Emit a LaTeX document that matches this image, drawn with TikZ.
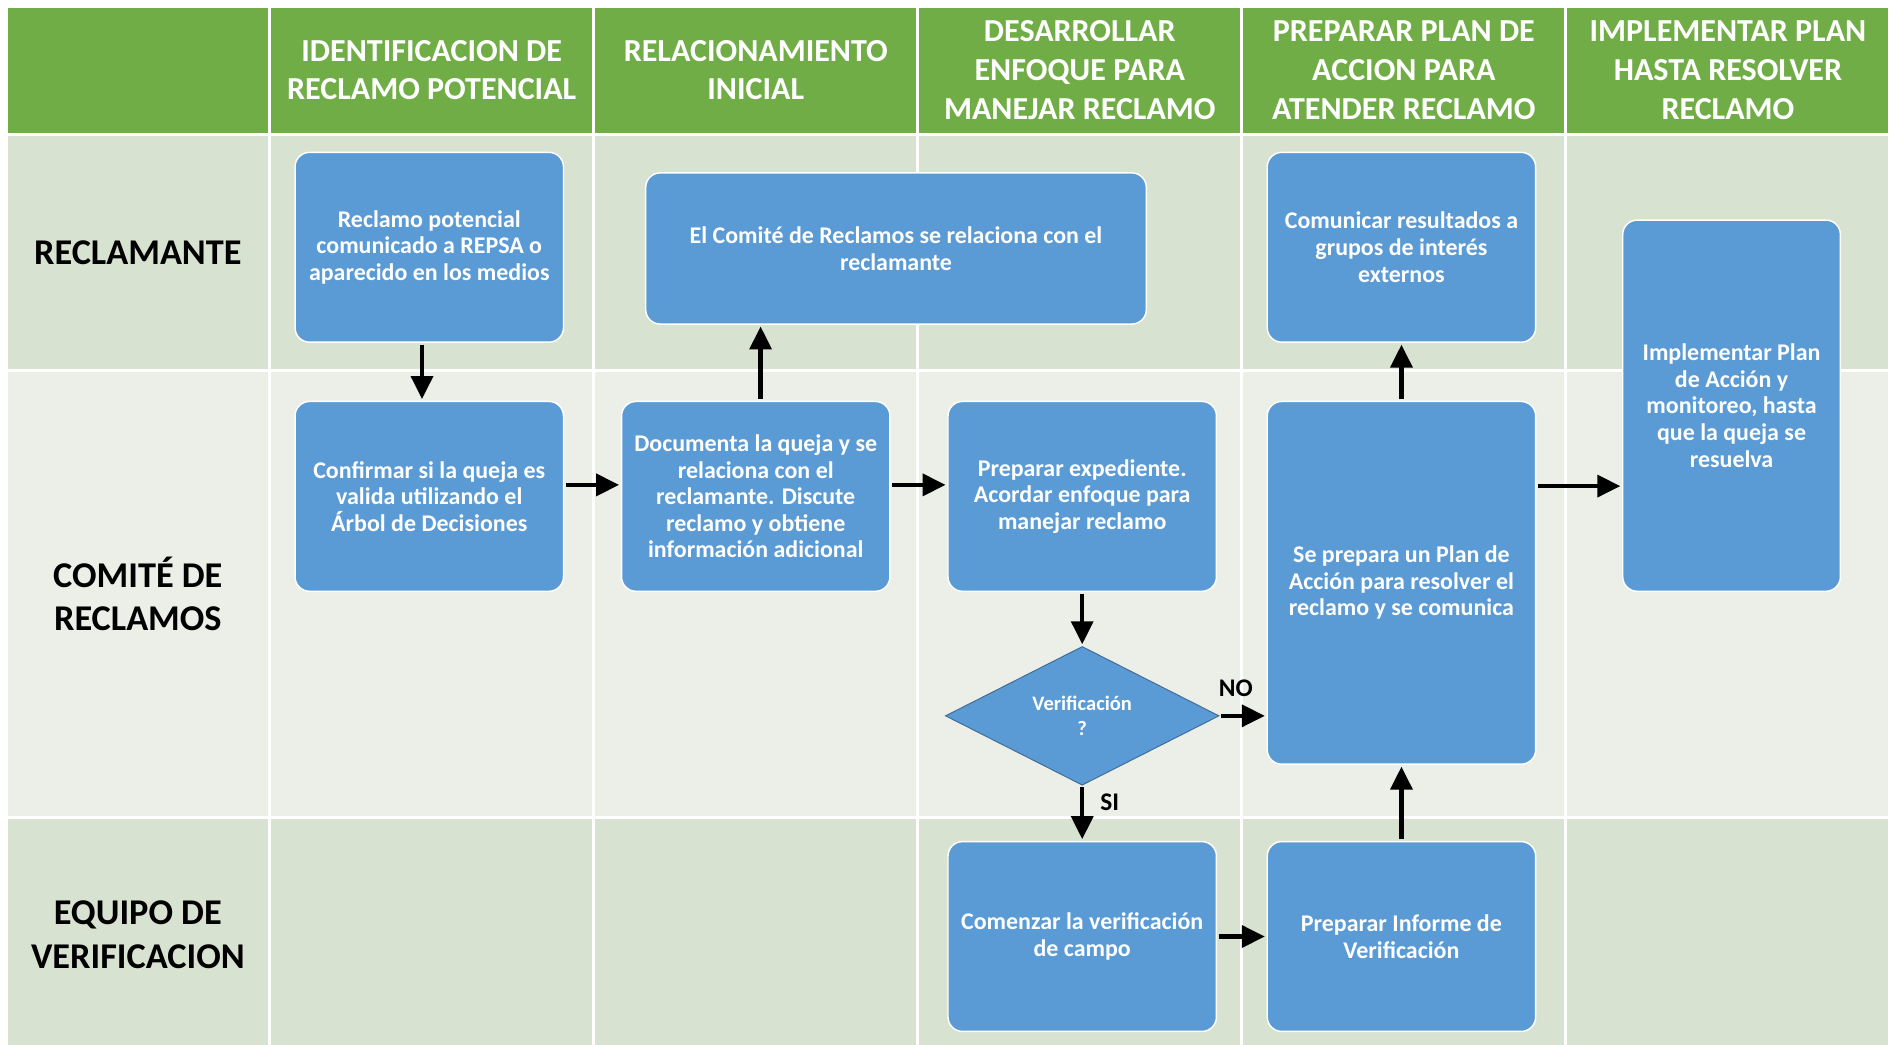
\documentclass[tikz,border=0pt]{standalone}
\usepackage{fontspec}
\setmainfont{Carlito}
\usetikzlibrary{arrows.meta, positioning, shapes.geometric}

\definecolor{hdrgreen}{HTML}{70AD47}
\definecolor{lanedark}{HTML}{D8E2D0}
\definecolor{lanelight}{HTML}{EBEFE7}
\definecolor{boxblue}{HTML}{5B9BD5}

\begin{document}
\begin{tikzpicture}[x=1pt, y=-1pt,
  cell/.style={draw=white, line width=2.5pt},
  hdrtext/.style={text=white, font=\bfseries\fontsize{26.5}{32}\selectfont, align=center},
  lanetext/.style={font=\bfseries\fontsize{30}{36}\selectfont, align=center},
  stepbox/.style={draw=white, line width=1.2pt, fill=boxblue, rounded corners=12pt, text=white, font=\bfseries\fontsize{19.8}{22}\selectfont, align=center, minimum width=222pt, minimum height=157pt, outer sep=0pt},
  decision/.style={diamond, draw=boxblue!70!black, line width=0.8pt, fill=boxblue, text=white, font=\bfseries\fontsize{17}{20}\selectfont, align=center, minimum width=226pt, minimum height=112pt, inner sep=0pt, outer sep=0pt},
  flow/.style={-{Triangle[width=18pt, length=19pt]}, line width=3.5pt, shorten <=2pt, shorten >=2pt},
  flowlabel/.style={font=\bfseries\fontsize{21}{24}\selectfont}
]
\useasboundingbox (0,0) rectangle (1568,864);

\foreach \xa/\xb in {5/223, 223/491, 491/759, 759/1027, 1027/1295, 1295/1563} {
  \draw[cell, fill=hdrgreen] (\xa,5) rectangle (\xb,111);
  \draw[cell, fill=lanedark] (\xa,111) rectangle (\xb,306);
  \draw[cell, fill=lanelight] (\xa,306) rectangle (\xb,676);
  \draw[cell, fill=lanedark] (\xa,676) rectangle (\xb,870);
}

\node[hdrtext] (h1) at (357,58) {IDENTIFICACION DE\\RECLAMO POTENCIAL};
\node[hdrtext] (h2) at (625,58) {RELACIONAMIENTO\\INICIAL};
\node[hdrtext] (h3) at (893,58) {DESARROLLAR\\ENFOQUE PARA\\MANEJAR RECLAMO};
\node[hdrtext] (h4) at (1161,58) {PREPARAR PLAN DE\\ACCION PARA\\ATENDER RECLAMO};
\node[hdrtext] (h5) at (1429,58) {IMPLEMENTAR PLAN\\HASTA RESOLVER\\RECLAMO};

\node[lanetext] (reclamante) at (114,209) {RECLAMANTE};
\node[lanetext] (comite) at (114,491) {COMITÉ DE\\RECLAMOS};
\node[lanetext] (equipo) at (114,773) {EQUIPO DE\\VERIFICACION};

\node[stepbox] (confirmar) at (355,410.5) {Confirmar si la queja es\\valida utilizando el\\Árbol de Decisiones};
\node[stepbox, above=49pt of confirmar] (potencial) {Reclamo potencial\\comunicado a REPSA o\\aparecido en los medios};
\node[stepbox, right=48pt of confirmar] (documenta) {Documenta la queja y se\\relaciona con el\\reclamante. Discute\\reclamo y obtiene\\información adicional};
\node[stepbox, right=48pt of documenta] (expediente) {Preparar expediente.\\Acordar enfoque para\\manejar reclamo};
\node[stepbox, minimum width=414pt, minimum height=125pt] (relaciona) at (741,205.5) {El Comité de Reclamos se relaciona con el\\reclamante};
\node[decision] (verifica) at (895,592) {Verificación\\?};
\node[stepbox] (campo) at (895,774.5) {Comenzar la verificación\\de campo};
\node[stepbox, right=42pt of campo] (informe) {Preparar Informe de\\Verificación};
\node[stepbox, minimum height=300pt] (plan) at (1159,482) {Se prepara un Plan de\\Acción para resolver el\\reclamo y se comunica};
\node[stepbox] (comunicar) at (1159,204.5) {Comunicar resultados a\\grupos de interés\\externos};
\node[stepbox, minimum width=180pt, minimum height=307pt] (implementar) at (1432,335.5) {Implementar Plan\\de Acción y\\monitoreo, hasta\\que la queja se\\resuelva};

\draw[flow] ([xshift=-6pt]potencial.south) -- ([xshift=-6pt]confirmar.north);
\draw[flow] ([yshift=9.5pt]confirmar.east) -- ([yshift=9.5pt]documenta.west);
\draw[flow] ([xshift=4pt]documenta.north) -- ([xshift=4pt]documenta.north |- relaciona.south);
\draw[flow] ([yshift=9.5pt]documenta.east) -- ([yshift=9.5pt]expediente.west);
\draw[flow] (expediente.south) -- (verifica.north);
\draw[flow] (verifica.east) -- node[flowlabel, above=11pt, pos=0.35] {NO} (verifica.east -| plan.west);
\draw[flow] (verifica.south) -- node[flowlabel, right=10pt, pos=0.3] {SI} (campo.north);
\draw[flow] (campo.east) -- (informe.west);
\draw[flow] (informe.north) -- (plan.south);
\draw[flow] (plan.north) -- (comunicar.south);
\draw[flow] ([yshift=80pt]plan.east) -- ([yshift=80pt]plan.east -| implementar.west);

\end{tikzpicture}
\end{document}
